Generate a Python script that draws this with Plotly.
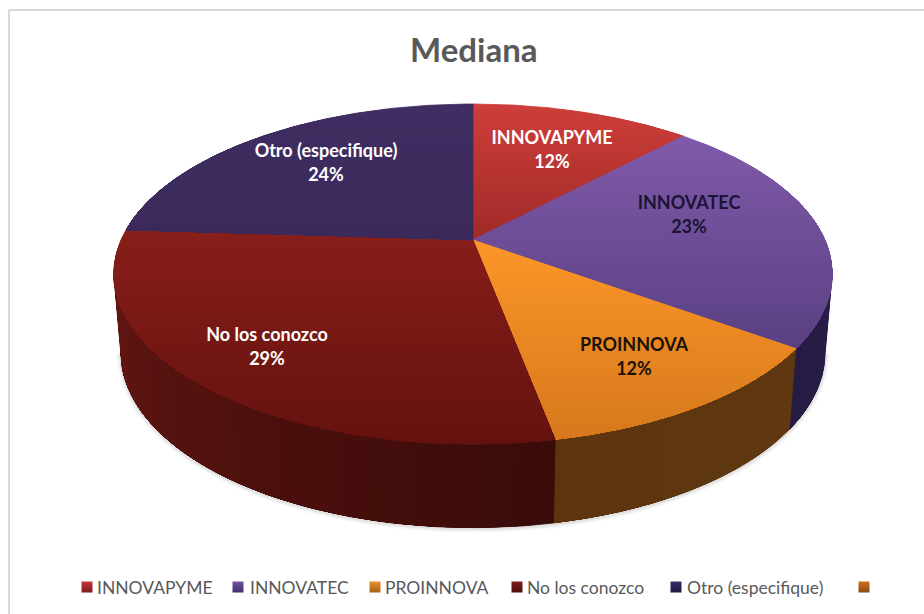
import numpy as np
import plotly.graph_objects as go

CATEGORIES = ["INNOVAPYME", "INNOVATEC", "PROINNOVA", "No los conozco", "Otro (especifique)", ""]
VALUES = [12, 23, 12, 29, 24, 0]
TITLE = "Mediana"

# style: top-face gradient (far colour, near colour), wall colour (left, right), legend colour
TOP_COL = [((206, 62, 58), (160, 42, 40)), ((128, 90, 170), (90, 64, 130)), ((252, 150, 40), (214, 120, 28)),
           ((136, 30, 26), (100, 18, 15)), ((64, 46, 98), (58, 41, 90)), ((200, 110, 30), (150, 80, 20))]
WALL_COL = [((120, 30, 30), (120, 30, 30)), ((38, 28, 66), (42, 30, 72)), ((92, 52, 14), (96, 56, 16)),
            ((100, 22, 18), (56, 11, 9)), ((38, 28, 66), (38, 28, 66)), ((100, 60, 20), (100, 60, 20))]
LEG_COL = ["#c9373a", "#7350a8", "#e8902c", "#7e1c1c", "#3a2a68", "#d0701c"]
LEG_END = ["#7a1c1c", "#40306a", "#a8621a", "#4a0e0e", "#201840", "#8a4a12"]
LABEL_COL = ["#ffffff", "#1a1436", "#1a1206", "#ffffff", "#ffffff"]
LABEL_XY = [(552, 148), (689, 213), (634, 355), (267, 345), (326, 161)]
LEG_MARK_X = [87, 238, 375, 517, 676, 864]
LEG_TEXT_X = [95, 248, 383, 525, 685]
FONT = "Lato"

CX, CY, CC, AA, BB = 473, 240, 352, 163.2, 0.2
CC2, AA2, CY2 = 345, 168, 317.6


def proj(theta, bottom=False):
    X, Y = np.sin(theta), np.cos(theta)
    d = 1 + BB * Y
    if bottom:
        return CX + CC2 * X / d, CY2 - AA2 * Y / d
    return CX + CC * X / d, CY - AA * Y / d


def mix(a, b, t):
    t = min(max(t, 0), 1)
    return "rgb(%d,%d,%d)" % tuple(round(a[i] + (b[i] - a[i]) * t) for i in range(3))


def clip_below(poly, yv):
    out = []
    n = len(poly)
    for i in range(n):
        p, q = poly[i], poly[(i + 1) % n]
        pin, qin = p[1] >= yv, q[1] >= yv
        if pin:
            out.append(p)
        if pin != qin:
            t = (yv - p[1]) / (q[1] - p[1])
            out.append((p[0] + t * (q[0] - p[0]), yv))
    return out


def patch(xs, ys, col, width=0.0):
    fig.add_trace(go.Scatter(x=list(xs), y=list(ys), mode="lines" if width else "none", fill="toself", fillcolor=col,
                             line=dict(color=col, width=width), hoverinfo="skip", showlegend=False))


fig = go.Figure()
edges = 2 * np.pi * np.concatenate([[0], np.cumsum(VALUES)]) / sum(VALUES)
LIMIT = np.arccos(-BB)  # silhouette angle of the disc

# soft shadow under the wall
arc = np.linspace(LIMIT, 2 * np.pi - LIMIT, 200)
sx, sy = proj(arc, bottom=True)
for w, op in ((9, 0.035), (6, 0.05), (3, 0.07)):
    fig.add_trace(go.Scatter(x=sx, y=sy + 1, mode="lines", line=dict(color=f"rgba(60,60,60,{op})", width=w),
                             hoverinfo="skip", showlegend=False))

# walls: each strip paints from its own angle to the wedge's end, so no seams appear
for i, v in enumerate(VALUES):
    if v == 0:
        continue
    a0, a1 = max(edges[i], LIMIT), min(edges[i + 1], 2 * np.pi - LIMIT)
    if a1 <= a0:
        continue
    steps = np.linspace(a0, a1, int((a1 - a0) * 24) + 2)
    for k in range(len(steps) - 1):
        th = np.linspace(steps[k], a1, 60)
        tx, ty = proj(th)
        bx, by = proj(th[::-1], bottom=True)
        col = mix(WALL_COL[i][1], WALL_COL[i][0], (k + .5) / (len(steps) - 1))
        patch(list(tx) + list(bx) + [tx[0]], list(ty) + list(by) + [ty[0]], col, 0.8 if k == 0 else 0)

# top faces: bands paint from their own height down to the wedge's end
BAND = 5
for i, v in enumerate(VALUES):
    if v == 0:
        continue
    th = np.linspace(edges[i], edges[i + 1], 160)
    px, py = proj(th)
    poly = [(CX, CY)] + list(zip(px, py))
    ys = [p[1] for p in poly]
    ymin, ymax = min(ys), max(ys)
    for n, y0 in enumerate(np.arange(ymin, ymax, BAND)):
        part = clip_below(poly, y0)
        if len(part) < 3:
            continue
        col = mix(TOP_COL[i][0], TOP_COL[i][1], (y0 + BAND / 2 - ymin) / (ymax - ymin))
        patch([p[0] for p in part] + [part[0][0]], [p[1] for p in part] + [part[0][1]], col, 0.8 if n == 0 else 0)

# data labels
for i, v in enumerate(VALUES):
    if v == 0:
        continue
    lx, ly = LABEL_XY[i]
    fig.add_trace(go.Scatter(x=[lx, lx], y=[ly - 12 + 3, ly + 12 + 3], mode="text", text=[CATEGORIES[i], f"{v}%"],
                             textposition="middle center",
                             textfont=dict(family=FONT, size=18, color=LABEL_COL[i], weight="bold"),
                             hoverinfo="skip", showlegend=False))

# legend row
for i, name in enumerate(CATEGORIES):
    fig.add_trace(go.Scatter(x=[LEG_MARK_X[i]], y=[587], mode="markers", hoverinfo="skip", showlegend=False,
                             marker=dict(symbol="square", size=11, color=LEG_COL[i], line=dict(width=0),
                                         gradient=dict(type="vertical", color=LEG_END[i]))))
    if name:
        fig.add_annotation(x=LEG_TEXT_X[i], y=587, text=name, showarrow=False, xanchor="left", yanchor="middle",
                           font=dict(family=FONT, size=17.5, color="#595959"))

fig.add_annotation(x=474, y=49, text=TITLE, showarrow=False, xanchor="center", yanchor="middle",
                   font=dict(family=FONT, size=33, color="#595959", weight="bold"))

# frame: only the top and left edges are inside the picture
fig.add_shape(type="line", x0=9, y0=10, x1=924, y1=10, line=dict(color="#d9d9d9", width=2), layer="below")
fig.add_shape(type="line", x0=9, y0=10, x1=9, y1=614, line=dict(color="#d9d9d9", width=2), layer="below")

fig.update_layout(width=924, height=614, margin=dict(l=0, r=0, t=0, b=0), paper_bgcolor="white", plot_bgcolor="white",
                  showlegend=False,
                  xaxis=dict(range=[0, 924], visible=False, fixedrange=True),
                  yaxis=dict(range=[614, 0], visible=False, fixedrange=True))
fig.write_html("out.html", config=dict(displayModeBar=False),
               post_script="document.body.style.margin='0';document.documentElement.style.overflow='hidden';")
